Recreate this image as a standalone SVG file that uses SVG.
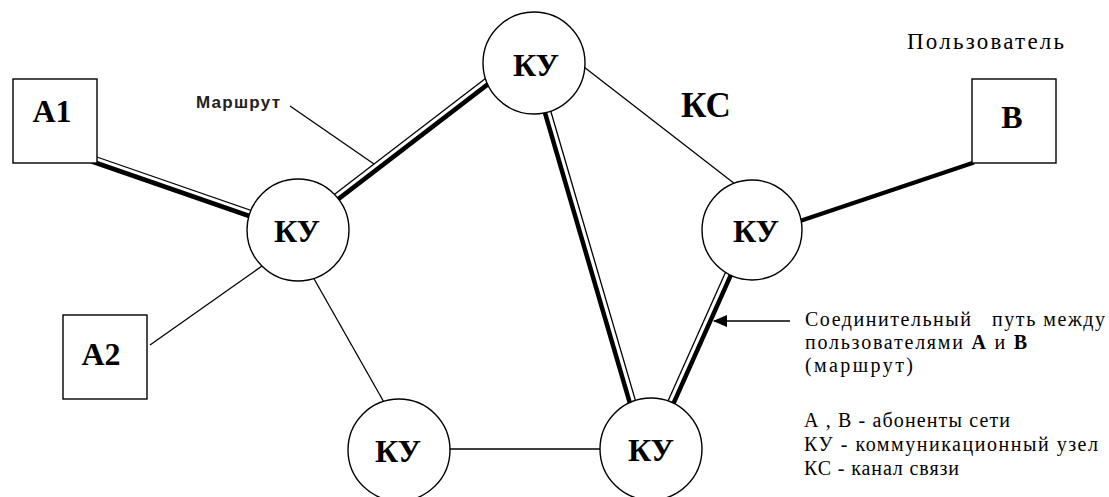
<svg xmlns="http://www.w3.org/2000/svg" width="1109" height="497" viewBox="0 0 1109 497">
  <style>
    .thin { stroke: #000; stroke-width: 1.3; fill: none; }
    .thick { stroke: #000; stroke-width: 4.5; fill: none; }
    .node { fill: #fff; stroke: #000; stroke-width: 1.4; }
    .lbl { font-family: "Liberation Serif", "Times New Roman", serif; font-weight: bold; font-size: 32px; fill: #000; }
    .txt { font-family: "Liberation Serif", "Times New Roman", serif; font-size: 20px; fill: #000; white-space: pre; }
    .sans { font-family: "Liberation Sans", Arial, sans-serif; font-weight: bold; font-size: 17px; fill: #222; }
  </style>
  <defs>
    <marker id="arrowhead" markerWidth="14" markerHeight="12" refX="13" refY="6" orient="auto" markerUnits="userSpaceOnUse">
      <path d="M0,0 L14,6 L0,12 Z" fill="#000"/>
    </marker>
  </defs>

  <rect width="1109" height="497" fill="#fff"/>

  <!-- channels between nodes -->
  <g id="connectors">
    <!-- route A1 - KY (double line) -->
    <line class="thick" x1="92" y1="161.5" x2="255" y2="218"/>
    <line class="thin" x1="94" y1="156" x2="257" y2="212.5"/>
    <!-- route KY - KY top -->
    <line class="thick" x1="334" y1="202.4" x2="490" y2="82.6"/>
    <line class="thin" x1="330.4" y1="197.6" x2="486.4" y2="77.8"/>
    <!-- route KY top - KY bottom right -->
    <line class="thick" x1="543.9" y1="109.2" x2="630.1" y2="403.8"/>
    <line class="thin" x1="549.7" y1="107.5" x2="635.9" y2="402.1"/>
    <!-- route KY right - KY bottom right -->
    <line class="thick" x1="731.6" y1="273.3" x2="673.4" y2="403.7"/>
    <line class="thin" x1="726.1" y1="270.9" x2="667.9" y2="401.3"/>
    <!-- route KY right - B -->
    <line stroke="#000" stroke-width="4" x1="800" y1="221" x2="974" y2="162.5"/>
    <!-- ordinary channels -->
    <line class="thin" x1="584" y1="67" x2="735" y2="184"/>
    <line class="thin" x1="150" y1="345" x2="262" y2="266"/>
    <line class="thin" x1="313" y1="277" x2="385" y2="404"/>
    <line class="thin" x1="448" y1="449" x2="602" y2="449"/>
    <!-- leader for the route label -->
    <line class="thin" x1="290" y1="106" x2="374" y2="164"/>
    <!-- pointer to the connecting path -->
    <line stroke="#000" stroke-width="1.4" x1="790" y1="321" x2="714" y2="321" marker-end="url(#arrowhead)"/>
  </g>

  <g id="a1">
    <rect class="node" x="13" y="79" width="84" height="84"/>
    <text class="lbl" x="52" y="122" text-anchor="middle">А1</text>
  </g>
  <g id="a2">
    <rect class="node" x="63" y="315" width="84" height="84"/>
    <text class="lbl" x="101" y="365" text-anchor="middle">А2</text>
  </g>
  <g id="b">
    <rect class="node" x="972" y="79" width="84" height="84"/>
    <text class="lbl" x="1012" y="128" text-anchor="middle">В</text>
  </g>

  <g id="ku-left">
    <circle class="node" cx="298" cy="230" r="51"/>
    <text class="lbl" x="297" y="242" text-anchor="middle">КУ</text>
  </g>
  <g id="ku-top">
    <circle class="node" cx="534" cy="63" r="51"/>
    <text class="lbl" x="536" y="76" text-anchor="middle">КУ</text>
  </g>
  <g id="ku-right">
    <circle class="node" cx="752" cy="230" r="50"/>
    <text class="lbl" x="756" y="242" text-anchor="middle">КУ</text>
  </g>
  <g id="ku-bottom-left">
    <circle class="node" cx="399" cy="450" r="51"/>
    <text class="lbl" x="398" y="462" text-anchor="middle">КУ</text>
  </g>
  <g id="ku-bottom-right">
    <circle class="node" cx="651" cy="449" r="51"/>
    <text class="lbl" x="651" y="461" text-anchor="middle">КУ</text>
  </g>

  <!-- captions -->
  <g id="captions">
    <text class="sans" x="196" y="108" textLength="84">Маршрут</text>
    <text class="lbl" x="681" y="117" style="font-size:35px">КС</text>
    <text class="txt" x="907" y="49" style="font-size:23px" textLength="157">Пользователь</text>
  </g>

  <g id="legend">
    <text class="txt" x="805" y="326" textLength="300">Соединительный   путь между</text>
    <text class="txt" x="805" y="349" textLength="222">пользователями <tspan font-weight="bold">А</tspan> и <tspan font-weight="bold">В</tspan></text>
    <text class="txt" x="805" y="372" textLength="108">(маршрут)</text>
    <text class="txt" x="804" y="427" textLength="206">А , В - абоненты сети</text>
    <text class="txt" x="804" y="451" textLength="294">КУ - коммуникационный узел</text>
    <text class="txt" x="804" y="475" textLength="155">КС - канал связи</text>
  </g>
</svg>
